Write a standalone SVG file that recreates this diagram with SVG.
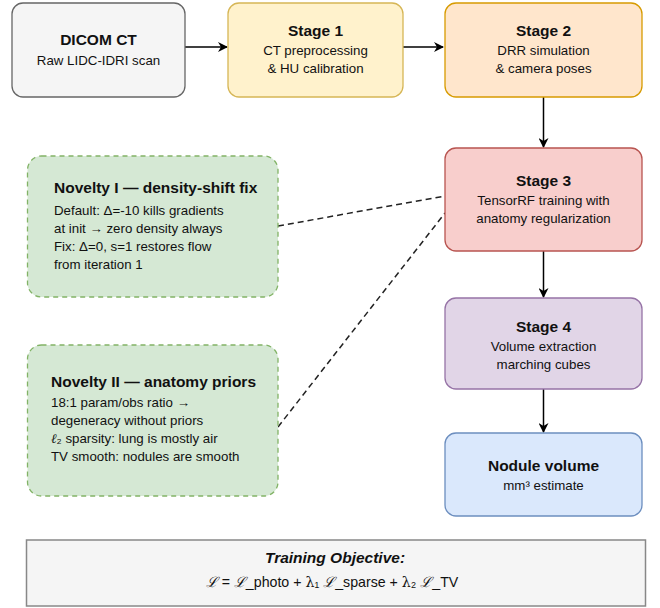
<svg xmlns="http://www.w3.org/2000/svg" width="660" height="608" viewBox="0 0 660 608">
<defs>
<marker id="ah" viewBox="0 0 10 10" refX="9" refY="5" markerWidth="10" markerHeight="10" markerUnits="userSpaceOnUse" orient="auto">
<path d="M0,0 L10,5 L0,10 L3,5 Z" fill="#000"/>
</marker>
</defs>
<style>
text{font-family:"Liberation Sans",Arial,"DejaVu Sans",sans-serif;fill:#111}
.t{font-size:15.5px;font-weight:bold;text-anchor:middle}
.b{font-size:13.3px;text-anchor:middle}
.nt{font-size:15.5px;font-weight:bold}
.nb{font-size:13.3px}
.box{stroke-width:1.3}
.nov{fill:#d5e8d4;stroke:#82b366;stroke-width:1.3;stroke-dasharray:5 4}
.arr{stroke:#000;stroke-width:1.5;fill:none;marker-end:url(#ah)}
.dash{stroke:#222;stroke-width:1.5;fill:none;stroke-dasharray:6 4}
.m{font-family:"DejaVu Serif",serif;font-style:italic}
.u{font-family:"DejaVu Serif",serif}
</style>
<rect width="660" height="608" fill="#fff"/>
<g id="connectors">
<line class="arr" x1="185" y1="47" x2="227" y2="47"/>
<line class="arr" x1="403" y1="47" x2="443" y2="47"/>
<line class="arr" x1="543.5" y1="97" x2="543.5" y2="147"/>
<line class="arr" x1="543.5" y1="251" x2="543.5" y2="297"/>
<line class="arr" x1="543.5" y1="389" x2="543.5" y2="432"/>
<line class="dash" x1="278" y1="226" x2="445" y2="196"/>
<line class="dash" x1="278" y1="427" x2="445" y2="213"/>
</g>
<g id="dicom">
<rect class="box" x="12" y="3" width="173" height="94" rx="11" fill="#f5f5f5" stroke="#666"/>
<text class="t" x="98.5" y="45">DICOM CT</text>
<text class="b" x="98.5" y="65">Raw LIDC-IDRI scan</text>
</g>
<g id="stage1">
<rect class="box" x="228" y="3" width="175" height="94" rx="11" fill="#fff2cc" stroke="#d6b656"/>
<text class="t" x="315.5" y="36">Stage 1</text>
<text class="b" x="315.5" y="55">CT preprocessing</text>
<text class="b" x="315.5" y="73">&amp; HU calibration</text>
</g>
<g id="stage2">
<rect class="box" x="445" y="3" width="197" height="94" rx="11" fill="#ffe6cc" stroke="#d79b00"/>
<text class="t" x="543.5" y="36">Stage 2</text>
<text class="b" x="543.5" y="55">DRR simulation</text>
<text class="b" x="543.5" y="73">&amp; camera poses</text>
</g>
<g id="stage3">
<rect class="box" x="445" y="148" width="197" height="103" rx="11" fill="#f8cecc" stroke="#b85450"/>
<text class="t" x="543.5" y="186">Stage 3</text>
<text class="b" x="543.5" y="205">TensorRF training with</text>
<text class="b" x="543.5" y="223">anatomy regularization</text>
</g>
<g id="stage4">
<rect class="box" x="445" y="298" width="197" height="91" rx="11" fill="#e1d5e7" stroke="#9673a6"/>
<text class="t" x="543.5" y="332">Stage 4</text>
<text class="b" x="543.5" y="351">Volume extraction</text>
<text class="b" x="543.5" y="369">marching cubes</text>
</g>
<g id="nodule">
<rect class="box" x="445" y="433" width="197" height="83" rx="11" fill="#dae8fc" stroke="#6c8ebf"/>
<text class="t" x="543.5" y="471">Nodule volume</text>
<text class="b" x="543.5" y="490">mm³ estimate</text>
</g>
<g id="novelty1">
<rect class="nov" x="27.5" y="156" width="250.5" height="141" rx="14"/>
<text class="nt" x="54" y="193">Novelty I — density-shift fix</text>
<text class="nb" x="54" y="215">Default: Δ=-10 kills gradients</text>
<text class="nb" x="54" y="233">at init → zero density always</text>
<text class="nb" x="54" y="251">Fix: Δ=0, s=1 restores flow</text>
<text class="nb" x="54" y="269">from iteration 1</text>
</g>
<g id="novelty2">
<rect class="nov" x="27.5" y="345" width="250.5" height="151" rx="14"/>
<text class="nt" x="51" y="387">Novelty II — anatomy priors</text>
<text class="nb" x="51" y="407">18:1 param/obs ratio →</text>
<text class="nb" x="51" y="425">degeneracy without priors</text>
<text class="nb" x="51" y="443"><tspan class="m">ℓ</tspan>₂ sparsity: lung is mostly air</text>
<text class="nb" x="51" y="461">TV smooth: nodules are smooth</text>
</g>
<g id="objective">
<rect x="26.5" y="540" width="619" height="66" fill="#f5f5f5" stroke="#888" stroke-width="1.5"/>
<text class="t" x="335" y="563" font-style="italic">Training Objective:</text>
<text class="b" x="332" y="587" style="font-size:14.2px"><tspan class="m">ℒ</tspan> = <tspan class="m">ℒ</tspan>_photo + <tspan class="u">λ</tspan>₁ <tspan class="m">ℒ</tspan>_sparse + <tspan class="u">λ</tspan>₂ <tspan class="m">ℒ</tspan>_TV</text>
</g>
</svg>
